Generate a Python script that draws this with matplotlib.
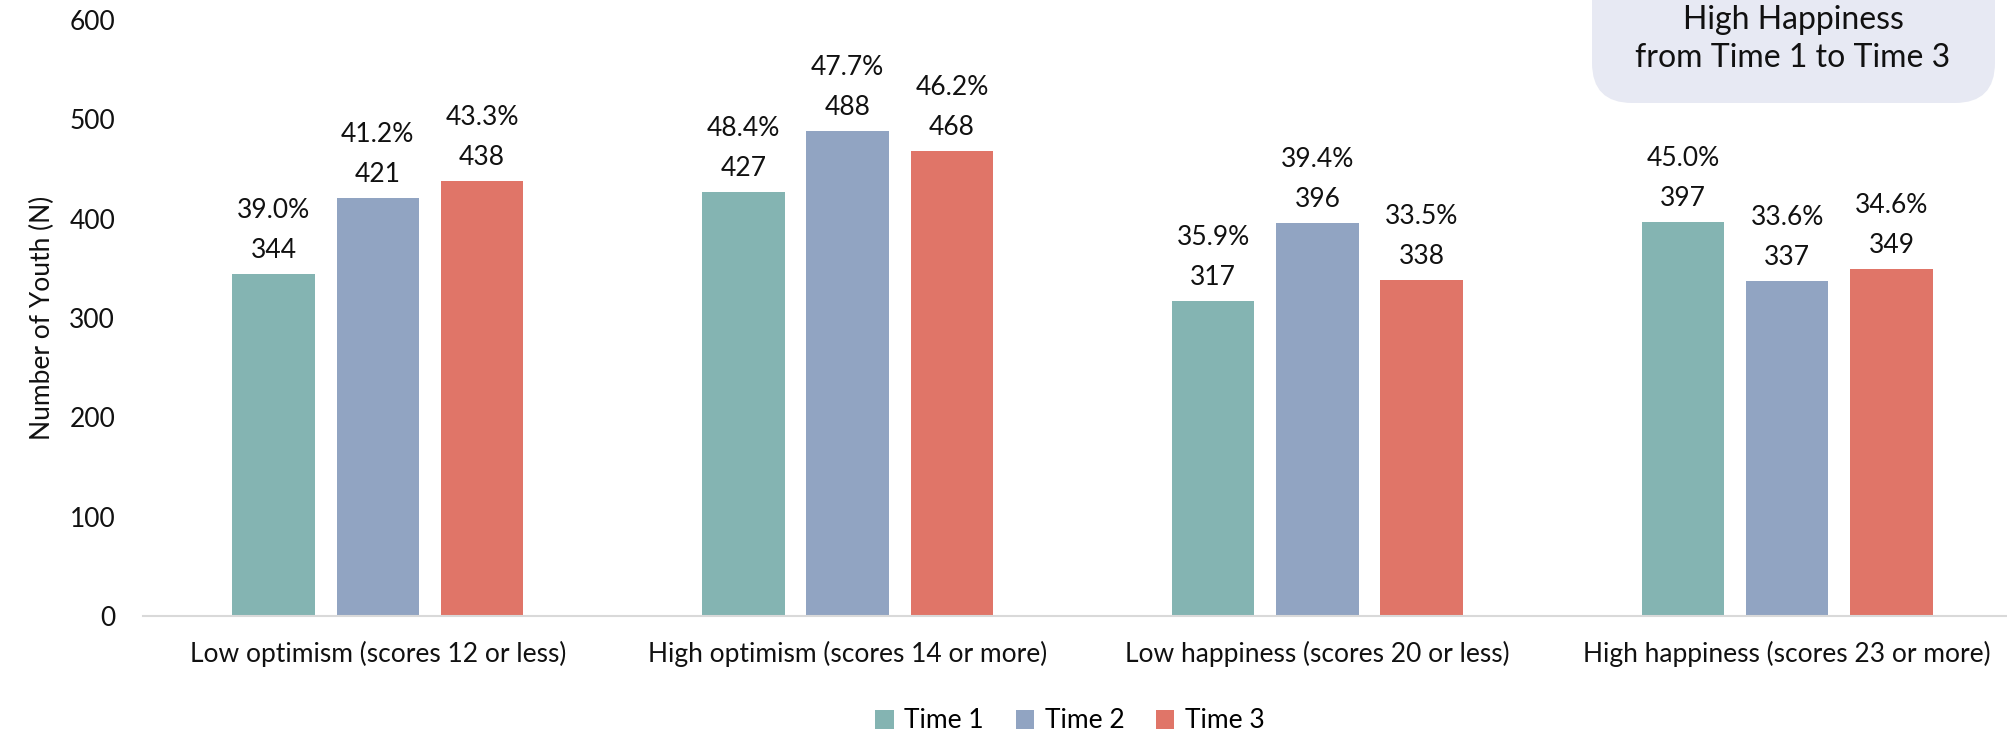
import matplotlib
matplotlib.use("Agg")
import matplotlib.pyplot as plt
from matplotlib.patches import FancyBboxPatch
import numpy as np

plt.rcParams['font.family'] = ['Lato', 'DejaVu Sans']

categories = ["Low optimism (scores 12 or less)",
              "High optimism (scores 14 or more)",
              "Low happiness (scores 20 or less)",
              "High happiness (scores 23 or more)"]
series_names = ["Time 1", "Time 2", "Time 3"]
counts = {
    "Time 1": [344, 427, 317, 397],
    "Time 2": [421, 488, 396, 337],
    "Time 3": [438, 468, 338, 349],
}
percents = {
    "Time 1": [39.0, 48.4, 35.9, 45.0],
    "Time 2": [41.2, 47.7, 39.4, 33.6],
    "Time 3": [43.3, 46.2, 33.5, 34.6],
}
colors = {"Time 1": "#84B4B2", "Time 2": "#91A4C2", "Time 3": "#E07568"}
yticks = [0, 100, 200, 300, 400, 500, 600]

W, H = 2007, 737
fig = plt.figure(figsize=(W / 100, H / 100), dpi=100)

# axes in pixel layout
left_px, right_px, top_px, bottom_px = 143, 2022, 20, 616
ax = fig.add_axes([left_px / W, 1 - bottom_px / H,
                   (right_px - left_px) / W, (bottom_px - top_px) / H])

x = np.arange(len(categories))
step = 0.222
width = 0.176
fs = 19

for i, name in enumerate(series_names):
    xs = x + (i - 1) * step
    ax.bar(xs, counts[name], width=width, color=colors[name], label=name, zorder=2)
    for xi, c, p in zip(xs, counts[name], percents[name]):
        ax.annotate(f"{p:.1f}%\n{c}", (xi, c), xytext=(0, 8), textcoords="offset points",
                    ha="center", va="bottom", fontsize=fs, linespacing=1.75, color="#111111")

ax.set_xlim(-0.5, 3.5)
ax.set_ylim(0, 600)
ax.set_yticks(yticks)
ax.set_xticks(x)
ax.set_xticklabels(categories, fontsize=fs, color="#111111")
ax.tick_params(axis="both", length=0, labelsize=fs, colors="#111111")
ax.tick_params(axis="y", pad=20)
ax.tick_params(axis="x", pad=18)
for side in ["top", "right", "left"]:
    ax.spines[side].set_visible(False)
ax.spines["bottom"].set_color("#D9D9D9")
ax.spines["bottom"].set_linewidth(1.5)
ax.set_ylabel("Number of Youth (N)", fontsize=fs, color="#111111", labelpad=10)

handles, labels = ax.get_legend_handles_labels()
fig.legend(handles, labels, loc="center", bbox_to_anchor=(1070 / W, 1 - 721 / H),
           ncol=3, frameon=False, fontsize=fs, handlelength=0.7, handleheight=0.7,
           handletextpad=0.4, columnspacing=1.2)

# rounded note box at top right
bx0, bx1, by0, by1 = 1592, 1995, -40, 103
box = FancyBboxPatch((bx0 / W, 1 - by1 / H), (bx1 - bx0) / W, (by1 - by0) / H,
                     boxstyle="round,pad=0,rounding_size=0.02",
                     transform=fig.transFigure, facecolor="#E7E9F3", edgecolor="none",
                     mutation_aspect=W / H)
fig.patches.append(box)
fig.text(1793 / W, 1 - 39 / H, "High Happiness\nfrom Time 1 to Time 3", ha="center", va="center",
         fontsize=23, linespacing=1.3, color="#111111")

fig.savefig("out.png", dpi=100)
